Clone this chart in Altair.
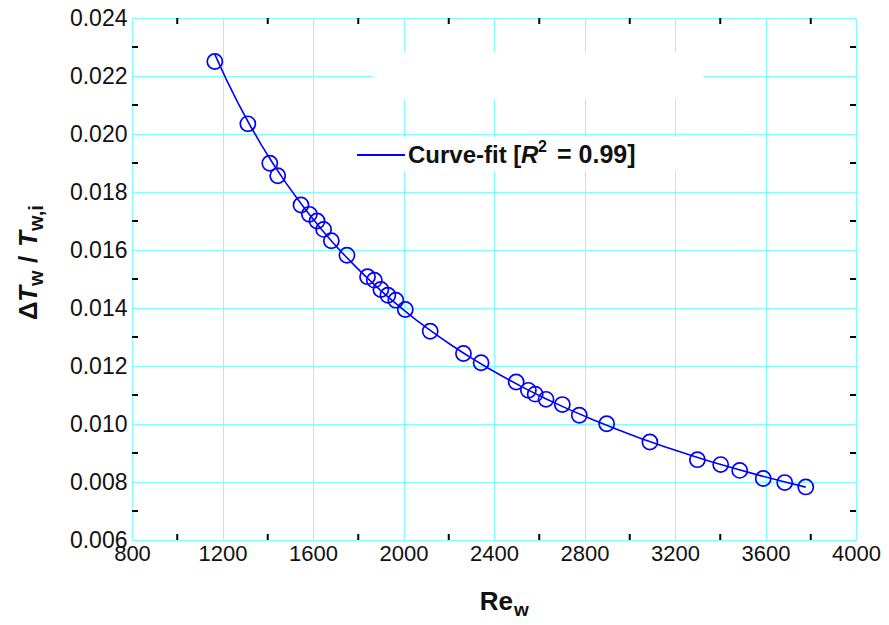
import altair as alt
import pandas as pd

# ---- data ----
re_w = [1166, 1312, 1409, 1444, 1547, 1584, 1618, 1647, 1681, 1750, 1841, 1871,
        1900, 1931, 1966, 2008, 2118, 2265, 2343, 2498, 2552, 2582, 2630, 2702,
        2777, 2898, 3089, 3299, 3402, 3486, 3590, 3685, 3778]
dT_ratio = [0.02250, 0.02035, 0.01899, 0.01856, 0.01755, 0.01723, 0.01700, 0.01671,
            0.01632, 0.01582, 0.01508, 0.01496, 0.01464, 0.01444, 0.01427, 0.01395,
            0.01320, 0.01243, 0.01211, 0.01145, 0.01116, 0.01103, 0.01085, 0.01067,
            0.01030, 0.01001, 0.00938, 0.00877, 0.00860, 0.00840, 0.00812, 0.00798,
            0.00783]
x_major = [800, 1200, 1600, 2000, 2400, 2800, 3200, 3600, 4000]
y_major = [0.006, 0.008, 0.010, 0.012, 0.014, 0.016, 0.018, 0.020, 0.022, 0.024]
x_minor = [1000, 1400, 1800, 2200, 2600, 3000, 3400, 3800]
y_minor = [0.007, 0.009, 0.011, 0.013, 0.015, 0.017, 0.019, 0.021, 0.023]
legend_label = ["Curve-fit [", "R", "2", "= 0.99]"]

W, H = 724, 522
FONT = "Liberation Sans"
BLUE = "#0000ff"
GRID = "#80ffff"

df = pd.DataFrame({"Re": re_w, "dT": dT_ratio})
one = pd.DataFrame({"a": [0]})

xs = alt.Scale(domain=[800, 4000], nice=False, zero=False)
ys = alt.Scale(domain=[0.006, 0.024], nice=False, zero=False)

x_axis = alt.Axis(values=x_major, format="d", grid=True, gridColor=GRID, gridWidth=1,
                  gridOpacity=1, ticks=False, domain=False, title=None, labelFontSize=22,
                  labelFont=FONT, labelColor="#111111", labelPadding=3, labelOverlap=False,
                  labelFlush=False)
y_axis = alt.Axis(values=y_major, format=".3f", grid=True, gridColor=GRID, gridWidth=1,
                  gridOpacity=1, ticks=False, domain=False, title=None, labelFontSize=23,
                  labelFont=FONT, labelColor="#111111", labelPadding=5, labelOverlap=False,
                  labelFlush=False)

X = lambda f: alt.X(f, scale=xs, axis=x_axis)
Y = lambda f: alt.Y(f, scale=ys, axis=y_axis)

points = alt.Chart(df).mark_point(shape="circle", filled=False, size=230, strokeWidth=1.7,
                                  color=BLUE, opacity=1).encode(x=X("Re:Q"), y=Y("dT:Q"))

fit = alt.Chart(df).transform_regression("Re", "dT", method="pow").mark_line(
    color=BLUE, strokeWidth=1.6).encode(x=X("Re:Q"), y=Y("dT:Q"))

# white boxes (blank legend area and legend background)
box_top = alt.Chart(one).mark_rect(color="white").encode(
    x=alt.value(241), x2=alt.value(571), y=alt.value(34), y2=alt.value(81))
box_leg = alt.Chart(one).mark_rect(color="white").encode(
    x=alt.value(218), x2=alt.value(571), y=alt.value(119), y2=alt.value(153))

# minor ticks, inward on all four sides
xm = pd.DataFrame({"Re": x_minor})
ym = pd.DataFrame({"dT": y_minor})
tick_style = dict(color="black", strokeWidth=2)
t_bottom = alt.Chart(xm).mark_rule(**tick_style).encode(
    x=X("Re:Q"), y=alt.value(H), y2=alt.value(H - 6))
t_top = alt.Chart(xm).mark_rule(**tick_style).encode(
    x=X("Re:Q"), y=alt.value(0), y2=alt.value(6))
t_left = alt.Chart(ym).mark_rule(**tick_style).encode(
    y=Y("dT:Q"), x=alt.value(0), x2=alt.value(6))
t_right = alt.Chart(ym).mark_rule(**tick_style).encode(
    y=Y("dT:Q"), x=alt.value(W), x2=alt.value(W - 6))

# legend
leg_line = alt.Chart(one).mark_rule(color=BLUE, strokeWidth=2).encode(
    x=alt.value(225), x2=alt.value(273), y=alt.value(137))

def txt(text, x, y, size, style="normal", angle=0, align="left"):
    return alt.Chart(one).mark_text(
        text=text, font=FONT, fontSize=size, fontWeight="bold", fontStyle=style,
        align=align, baseline="alphabetic", angle=angle, color="#111111").encode(
        x=alt.value(x), y=alt.value(y))

legend_txt = [
    txt(legend_label[0], 276, 145, 24),
    txt(legend_label[1], 389, 145, 24, style="italic"),
    txt(legend_label[2], 406, 134, 16),
    txt(legend_label[3], 425, 145, 25),
]

# x title: Re_w
x_title = [txt("Re", 381, 592, 26, align="right"), txt("w", 382, 598, 19)]

# y title: ΔT_w / T_w,i  (rotated, reads bottom to top)
yx = -95
y_title = [
    txt("\u0394", yx, 302, 26, angle=270),
    txt("T", yx, 284, 26, style="italic", angle=270),
    txt("w", yx + 6, 268, 20, angle=270),
    txt("/", yx, 245, 26, angle=270),
    txt("T", yx, 229, 26, style="italic", angle=270),
    txt("w,i", yx + 6, 213, 20, angle=270),
]

chart = alt.layer(
    box_top, box_leg, points, fit, t_bottom, t_top, t_left, t_right, leg_line,
    *legend_txt, *x_title, *y_title,
).properties(
    width=W, height=H,
    autosize=alt.AutoSizeParams(type="none"),
    padding={"left": 124, "top": 10, "right": 25, "bottom": 84},
).configure_view(stroke="black", strokeWidth=2).configure(background="white")

chart.save("out.html", embed_options={"renderer": "svg", "actions": False})
